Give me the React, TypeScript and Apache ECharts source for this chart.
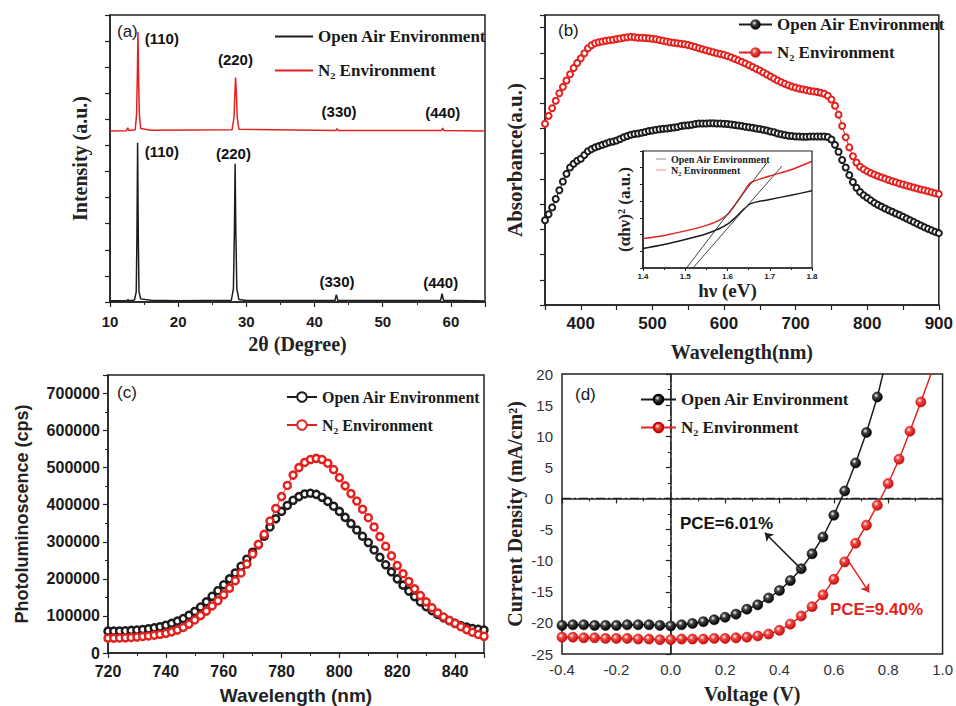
import React, { useEffect, useRef } from 'react';
import * as echarts from 'echarts';

const BLACK = '#1c1c1c';
const RED = '#e3221f';
const SANS = '"Liberation Sans", Arial, sans-serif';
const SERIF = '"Liberation Serif", "Times New Roman", serif';

// ---------- (a) XRD ----------
const xrdAirAngle = [10, 12.5, 12.6, 12.8, 13.6, 13.85, 13.95, 14.05, 14.15, 14.25, 14.5, 16, 20, 27.8, 28.1, 28.25, 28.35, 28.45, 28.6, 28.9, 30, 43.0, 43.2, 43.4, 58.5, 58.7, 58.9, 65];
const xrdAirIntensity = [0.05, 0.05, 0.09, 0.05, 0.08, 0.4, 2.5, 6.1, 2.5, 0.4, 0.12, 0.07, 0.05, 0.07, 0.5, 2.8, 5.3, 2.8, 0.5, 0.1, 0.06, 0.06, 0.28, 0.06, 0.07, 0.32, 0.07, 0.04];
const xrdN2Angle = [10, 12.4, 12.6, 12.8, 13.7, 13.9, 14.0, 14.1, 14.2, 14.3, 14.5, 16, 27.9, 28.2, 28.3, 28.42, 28.55, 28.65, 28.9, 43.1, 43.3, 43.5, 58.6, 58.8, 59.0, 65];
const xrdN2Intensity = [6.55, 6.56, 6.68, 6.57, 6.6, 7.2, 8.5, 10.35, 8.5, 7.2, 6.65, 6.58, 6.6, 7.1, 7.9, 8.6, 7.9, 7.1, 6.62, 6.57, 6.64, 6.57, 6.57, 6.66, 6.57, 6.55];
const peakNames = ['(110)', '(220)', '(330)', '(440)', '(110)', '(220)', '(330)', '(440)'];
const peakLabelAngle = [17.6, 28.4, 43.6, 58.8, 17.6, 28.1, 43.3, 58.5];
const peakLabelLevel = [10.1, 9.3, 7.3, 7.25, 5.75, 5.7, 0.77, 0.73];

// ---------- (b) absorbance ----------
const absWavelength = Array.from({ length: 111 }, (_, i) => 350 + 5 * i);
const absAir = [3.36, 3.6, 3.87, 4.2, 4.55, 4.9, 5.2, 5.45, 5.6, 5.72, 5.8, 5.95, 6.1, 6.18, 6.25, 6.3, 6.35, 6.4, 6.45, 6.48, 6.52, 6.58, 6.65, 6.7, 6.75, 6.78, 6.8, 6.83, 6.86, 6.9, 6.92, 6.95, 6.97, 6.99, 7.0, 7.02, 7.04, 7.06, 7.1, 7.12, 7.13, 7.15, 7.18, 7.2, 7.2, 7.2, 7.21, 7.21, 7.2, 7.2, 7.19, 7.18, 7.16, 7.14, 7.12, 7.1, 7.07, 7.05, 7.03, 7.0, 6.98, 6.95, 6.92, 6.88, 6.85, 6.8, 6.77, 6.74, 6.71, 6.7, 6.68, 6.68, 6.67, 6.67, 6.68, 6.68, 6.68, 6.68, 6.68, 6.66, 6.56, 6.35, 6.08, 5.75, 5.45, 5.15, 4.88, 4.65, 4.48, 4.35, 4.25, 4.15, 4.05, 3.97, 3.9, 3.83, 3.76, 3.7, 3.63, 3.57, 3.5, 3.43, 3.36, 3.29, 3.22, 3.15, 3.08, 3.02, 2.96, 2.9, 2.85];
const absN2 = [7.19, 7.5, 7.8, 8.1, 8.4, 8.65, 8.9, 9.15, 9.4, 9.6, 9.78, 9.98, 10.18, 10.3, 10.38, 10.42, 10.45, 10.48, 10.5, 10.52, 10.55, 10.57, 10.6, 10.62, 10.64, 10.62, 10.6, 10.6, 10.59, 10.58, 10.56, 10.54, 10.51, 10.48, 10.45, 10.42, 10.4, 10.38, 10.36, 10.34, 10.31, 10.27, 10.23, 10.18, 10.14, 10.1, 10.06, 10.02, 9.98, 9.95, 9.92, 9.87, 9.82, 9.76, 9.7, 9.64, 9.58, 9.51, 9.44, 9.37, 9.3, 9.22, 9.14, 9.06, 8.98, 8.9, 8.83, 8.77, 8.71, 8.66, 8.62, 8.58, 8.55, 8.52, 8.49, 8.47, 8.45, 8.42, 8.38, 8.3, 8.15, 7.9, 7.55, 7.1, 6.65, 6.25, 5.9, 5.65, 5.48, 5.38, 5.3, 5.23, 5.17, 5.11, 5.06, 5.01, 4.96, 4.91, 4.87, 4.82, 4.78, 4.74, 4.7, 4.66, 4.62, 4.58, 4.55, 4.51, 4.47, 4.43, 4.4];

// ---------- inset (Tauc) ----------
const taucEnergy = [1.4, 1.45, 1.5, 1.55, 1.58, 1.6, 1.62, 1.64, 1.655, 1.7, 1.75, 1.8];
const taucAir = [1.17, 1.4, 1.7, 2.05, 2.35, 2.62, 3.05, 3.55, 3.85, 4.1, 4.35, 4.62];
const taucN2 = [1.76, 1.95, 2.22, 2.55, 2.85, 3.2, 3.85, 4.6, 5.1, 5.5, 5.88, 6.39];
const tangentN2 = [[1.503, 0], [1.693, 6.29]];
const tangentAir = [[1.518, 0], [1.729, 6.1]];

// ---------- (c) PL ----------
const plWavelength = Array.from({ length: 66 }, (_, i) => 720 + 2 * i);
const plAir = [59000, 59000, 59500, 60000, 61000, 62000, 63500, 65500, 68000, 71000, 75000, 80000, 86000, 93000, 102000, 112000, 124000, 138000, 153000, 168000, 184000, 200000, 216000, 234000, 253000, 272000, 292000, 315000, 340000, 362000, 382000, 398000, 412000, 422000, 429000, 431000, 428000, 420000, 409000, 396000, 382000, 366000, 349000, 332000, 315000, 298000, 278000, 258000, 238000, 219000, 200000, 183000, 167000, 152000, 138000, 125000, 114000, 104000, 95000, 87000, 80000, 74000, 70000, 66000, 64000, 62000];
const plN2 = [40000, 40000, 40500, 41000, 42000, 43000, 44500, 46000, 48000, 50500, 53000, 57000, 62000, 69000, 78000, 89000, 101000, 113000, 127000, 141000, 157000, 175000, 195000, 216000, 240000, 267000, 293000, 320000, 356000, 390000, 422000, 452000, 480000, 500000, 514000, 522000, 525000, 522000, 512000, 495000, 473000, 451000, 430000, 410000, 388000, 365000, 340000, 314000, 288000, 262000, 236000, 214000, 193000, 173000, 155000, 138000, 122000, 108000, 97000, 88000, 80000, 71000, 63000, 56000, 50000, 45000];

// ---------- (d) J-V ----------
const jvAirV = [-0.4, -0.36, -0.32, -0.28, -0.24, -0.2, -0.16, -0.12, -0.08, -0.04, 0, 0.04, 0.08, 0.12, 0.16, 0.2, 0.24, 0.28, 0.32, 0.36, 0.4, 0.44, 0.48, 0.52, 0.56, 0.6, 0.64, 0.68, 0.72, 0.76, 0.8];
const jvAirJ = [-20.4, -20.3, -20.3, -20.4, -20.4, -20.4, -20.3, -20.3, -20.3, -20.4, -20.5, -20.3, -20.1, -19.8, -19.5, -19.1, -18.6, -17.8, -17.1, -16.0, -14.8, -13.2, -11.3, -8.9, -6.2, -2.7, 1.2, 5.7, 10.6, 16.3, 23.5];
const jvN2V = [-0.4, -0.36, -0.32, -0.28, -0.24, -0.2, -0.16, -0.12, -0.08, -0.04, 0, 0.04, 0.08, 0.12, 0.16, 0.2, 0.24, 0.28, 0.32, 0.36, 0.4, 0.44, 0.48, 0.52, 0.56, 0.6, 0.64, 0.68, 0.72, 0.76, 0.8, 0.84, 0.88, 0.92, 0.98];
const jvN2J = [-22.3, -22.3, -22.4, -22.4, -22.5, -22.5, -22.5, -22.6, -22.6, -22.7, -22.7, -22.6, -22.6, -22.6, -22.5, -22.5, -22.4, -22.3, -22.1, -21.8, -21.2, -20.2, -18.9, -17.4, -15.5, -13.0, -10.2, -7.2, -4.3, -1.1, 2.4, 6.3, 10.8, 15.5, 22.7];
const zeroVoltageLine = [[0, -25], [0, 20]];
const zeroCurrentLine = [[-0.4, 0], [1.0, 0]];
const pceTexts = ['PCE=6.01%', 'PCE=9.40%'];
const pceTextPos = [[0.205, -4.1], [0.757, -17.8]];
const pceArrowFrom = [[0.481, -11.4], [0.659, -10.4]];
const pceArrowTo = [[0.346, -5.5], [0.73, -15.1]];

const AIR = 'Open Air Environment';
const N2 = 'N₂ Environment';

function pairs(xs: number[], ys: number[]) {
  return xs.map((x, i) => [x, ys[i]]);
}

function ball(color: string, dark: string) {
  return new echarts.graphic.RadialGradient(0.38, 0.35, 0.65, [
    { offset: 0, color: '#ffffff' },
    { offset: 0.35, color: color },
    { offset: 1, color: dark },
  ]);
}

function xAx(grid: number, min: number, max: number, interval: number, extra: any = {}) {
  return {
    type: 'value', gridIndex: grid, min, max, interval,
    axisLine: { show: true, lineStyle: { color: '#222', width: 1.5 } },
    axisTick: { show: true, length: 5, lineStyle: { color: '#222', width: 1.2 } },
    minorTick: { show: false },
    splitLine: { show: false },
    nameLocation: 'middle',
    nameTextStyle: { fontFamily: SERIF, fontWeight: 'bold', fontSize: 20, color: '#222' },
    ...extra,
  };
}

function buildOption(): any {
  const labelBold = (size: number) => ({ fontFamily: SANS, fontWeight: 'bold', fontSize: size, color: '#1a1a1a' });
  const legendText = (size: number) => ({ fontFamily: SERIF, fontWeight: 'bold', fontSize: size, color: '#1a1a1a' });
  const fmt1 = (v: number) => (Math.abs(v) < 1e-9 ? '0.0' : v.toFixed(1));
  const stripName = (n: string) => n.split('|')[1];
  const lineIcon = 'path://M0,4L40,4L40,6L0,6Z';
  const ballLegend = (c: string, d: string) => ({ color: ball(c, d), borderColor: d, borderWidth: 0.6 });
  const noBorder = { textBorderWidth: 0, textBorderColor: 'transparent', textShadowBlur: 0 };

  return {
    animation: false,
    backgroundColor: '#fff',
    grid: [
      { left: 110, top: 15, width: 375, height: 287, show: true, borderColor: '#222', borderWidth: 1.5 },
      { left: 545, top: 15, width: 398, height: 290, show: true, borderColor: '#222', borderWidth: 1.5 },
      { left: 643, top: 151, width: 169, height: 117, show: true, borderColor: '#222', borderWidth: 1.2 },
      { left: 108, top: 375, width: 376, height: 280, show: true, borderColor: '#222', borderWidth: 1.5 },
      { left: 562, top: 374, width: 381, height: 280, show: true, borderColor: '#222', borderWidth: 1.5 },
    ],
    xAxis: [
      xAx(0, 10, 65, 10, {
        minorTick: { show: true, splitNumber: 2, length: 3, lineStyle: { color: '#222' } },
        axisLabel: { ...labelBold(15), margin: 12, showMaxLabel: false },
        name: '2θ (Degree)', nameGap: 32,
      }),
      xAx(1, 350, 900, 50, {
        axisLabel: { ...labelBold(17), margin: 10, formatter: (v: number) => (v % 100 === 0 ? String(v) : '') },
        name: 'Wavelength(nm)', nameGap: 37,
      }),
      xAx(2, 1.4, 1.8, 0.1, {
        axisTick: { show: true, length: 3, lineStyle: { color: '#222' } },
        minorTick: { show: true, splitNumber: 2, length: 2, lineStyle: { color: '#222' } },
        axisLabel: { ...labelBold(8), margin: 4, formatter: fmt1 },
        name: 'hν (eV)', nameGap: 8, nameTextStyle: { fontFamily: SERIF, fontWeight: 'bold', fontSize: 19, color: '#222' },
      }),
      xAx(3, 720, 850, 20, {
        minorTick: { show: true, splitNumber: 2, length: 3, lineStyle: { color: '#222' } },
        axisLabel: { ...labelBold(16), margin: 10, showMaxLabel: false },
        name: 'Wavelength (nm)', nameGap: 33,
        nameTextStyle: { fontFamily: SANS, fontWeight: 'bold', fontSize: 19, color: '#222' },
      }),
      xAx(4, -0.4, 1.0, 0.2, {
        minorTick: { show: true, splitNumber: 2, length: 3, lineStyle: { color: '#222' } },
        axisLabel: { fontFamily: SANS, fontSize: 15, color: '#333', margin: 8, formatter: fmt1 },
        name: 'Voltage (V)', nameGap: 30,
      }),
    ],
    yAxis: [
      xAx(0, 0, 11, 1, { axisLabel: { show: false }, name: 'Intensity (a.u.)', nameGap: 20 }),
      xAx(1, 0, 11.5, 1, { axisLabel: { show: false }, name: 'Absorbance(a.u.)', nameGap: 20,
        nameTextStyle: { fontFamily: SERIF, fontWeight: 'bold', fontSize: 21, color: '#222' } }),
      xAx(2, 0, 7, 1, {
        axisTick: { show: true, length: 3, lineStyle: { color: '#222' } },
        axisLabel: { show: false }, name: '(αhν)² (a.u.)', nameGap: 10,
        nameTextStyle: { fontFamily: SERIF, fontWeight: 'bold', fontSize: 17, color: '#222' },
      }),
      xAx(3, 0, 750000, 100000, {
        minorTick: { show: true, splitNumber: 2, length: 3, lineStyle: { color: '#222' } },
        axisLabel: { ...labelBold(16), margin: 8, showMaxLabel: false, formatter: (v: number) => String(v) },
        name: 'Photoluminoscence (cps)', nameGap: 77,
        nameTextStyle: { fontFamily: SANS, fontWeight: 'bold', fontSize: 18, color: '#222' },
      }),
      xAx(4, -25, 20, 5, {
        minorTick: { show: true, splitNumber: 2, length: 3, lineStyle: { color: '#222' } },
        axisLabel: { fontFamily: SANS, fontSize: 15, color: '#333', margin: 9 },
        name: 'Current Density (mA/cm²)', nameGap: 37,
      }),
    ],
    legend: [
      { data: [{ name: 'a|' + AIR, icon: lineIcon }, { name: 'a|' + N2, icon: lineIcon }], left: 270, top: 23, orient: 'vertical',
        itemWidth: 38, itemHeight: 10, itemGap: 17, formatter: stripName, textStyle: legendText(17), selectedMode: false },
      { data: [{ name: 'b|' + AIR, itemStyle: ballLegend('#444', '#000') }, { name: 'b|' + N2, itemStyle: ballLegend('#f04a44', '#c80e0e') }],
        left: 733, top: 11, orient: 'vertical', itemWidth: 33, itemHeight: 12, itemGap: 11,
        formatter: stripName, textStyle: legendText(17), selectedMode: false },
      { data: [{ name: 'i|' + AIR, icon: lineIcon }, { name: 'i|' + N2, icon: lineIcon }], left: 651, top: 149, orient: 'vertical',
        itemWidth: 10, itemHeight: 3, itemGap: 1, formatter: stripName, textStyle: legendText(10), selectedMode: false },
      { data: ['c|' + AIR, 'c|' + N2], left: 281, top: 384, orient: 'vertical', itemWidth: 30, itemHeight: 12, itemGap: 12,
        formatter: stripName, textStyle: legendText(16), selectedMode: false },
      { data: ['d|' + AIR, 'd|' + N2], left: 635, top: 386, orient: 'vertical', itemWidth: 35, itemHeight: 12, itemGap: 11,
        formatter: stripName, textStyle: legendText(17), selectedMode: false },
    ],
    series: [
      // (a)
      { type: 'line', name: 'a|' + AIR, xAxisIndex: 0, yAxisIndex: 0, data: pairs(xrdAirAngle, xrdAirIntensity),
        symbol: 'none', lineStyle: { color: BLACK, width: 1.5 }, itemStyle: { color: BLACK } },
      { type: 'line', name: 'a|' + N2, xAxisIndex: 0, yAxisIndex: 0, data: pairs(xrdN2Angle, xrdN2Intensity),
        symbol: 'none', lineStyle: { color: RED, width: 1.5 }, itemStyle: { color: RED } },
      { type: 'scatter', name: 'a|peaks', xAxisIndex: 0, yAxisIndex: 0, symbolSize: 0, itemStyle: { color: '#111', opacity: 1 },
        data: peakNames.map((n, i) => ({ name: n, value: [peakLabelAngle[i], peakLabelLevel[i]] })),
        label: { show: true, position: 'inside', formatter: (p: any) => p.name, ...labelBold(15), color: '#111', ...noBorder }, silent: true },
      // (b)
      { type: 'line', name: 'b|' + AIR, xAxisIndex: 1, yAxisIndex: 1, data: pairs(absWavelength, absAir),
        symbol: 'circle', symbolSize: 6, showAllSymbol: true,
        lineStyle: { color: BLACK, width: 1 }, itemStyle: { color: '#fff', borderColor: BLACK, borderWidth: 2 } },
      { type: 'line', name: 'b|' + N2, xAxisIndex: 1, yAxisIndex: 1, data: pairs(absWavelength, absN2),
        symbol: 'circle', symbolSize: 6, showAllSymbol: true,
        lineStyle: { color: RED, width: 1 }, itemStyle: { color: '#fff', borderColor: RED, borderWidth: 2 } },
      // inset
      { type: 'line', name: 'i|' + AIR, xAxisIndex: 2, yAxisIndex: 2, data: pairs(taucEnergy, taucAir), smooth: 0.3,
        symbol: 'none', lineStyle: { color: BLACK, width: 1.5 }, itemStyle: { color: BLACK } },
      { type: 'line', name: 'i|' + N2, xAxisIndex: 2, yAxisIndex: 2, data: pairs(taucEnergy, taucN2), smooth: 0.3,
        symbol: 'none', lineStyle: { color: RED, width: 1.5 }, itemStyle: { color: RED } },
      { type: 'line', name: 'i|tangent1', xAxisIndex: 2, yAxisIndex: 2, data: tangentN2,
        symbol: 'none', lineStyle: { color: '#444', width: 1 } },
      { type: 'line', name: 'i|tangent2', xAxisIndex: 2, yAxisIndex: 2, data: tangentAir,
        symbol: 'none', lineStyle: { color: '#444', width: 1 } },
      // (c)
      { type: 'line', name: 'c|' + AIR, xAxisIndex: 3, yAxisIndex: 3, data: pairs(plWavelength, plAir),
        symbol: 'circle', symbolSize: 7, showAllSymbol: true,
        lineStyle: { color: BLACK, width: 1 }, itemStyle: { color: '#fff', borderColor: BLACK, borderWidth: 2.5 } },
      { type: 'line', name: 'c|' + N2, xAxisIndex: 3, yAxisIndex: 3, data: pairs(plWavelength, plN2),
        symbol: 'circle', symbolSize: 7, showAllSymbol: true,
        lineStyle: { color: RED, width: 1 }, itemStyle: { color: '#fff', borderColor: RED, borderWidth: 2.5 } },
      // (d) reference lines
      { type: 'line', name: 'd|zeroV', xAxisIndex: 4, yAxisIndex: 4, data: zeroVoltageLine, symbol: 'none', silent: true,
        lineStyle: { color: '#222', width: 1.2, type: [9, 3, 2, 3] } },
      { type: 'line', name: 'd|zeroJ', xAxisIndex: 4, yAxisIndex: 4, data: zeroCurrentLine, symbol: 'none', silent: true,
        lineStyle: { color: '#222', width: 1.2, type: [9, 3, 2, 3] } },
      { type: 'line', name: 'd|' + AIR, xAxisIndex: 4, yAxisIndex: 4,
        data: jvAirV.map((v, i) => (i === jvAirV.length - 1 ? { value: [v, jvAirJ[i]], symbol: 'none' } : [v, jvAirJ[i]])),
        symbol: 'circle', symbolSize: 10, showAllSymbol: true, clip: true,
        lineStyle: { color: BLACK, width: 1.5 }, itemStyle: { color: ball('#444', '#000'), borderColor: '#000', borderWidth: 0.6 },
        markLine: {
          silent: true, symbol: ['none', 'none'], label: { show: false },
          data: pceArrowFrom.map((f, i) => [
            { coord: f, symbol: 'none', lineStyle: { color: i === 0 ? BLACK : RED, width: 1.5, type: 'solid' } },
            { coord: pceArrowTo[i], symbol: 'arrow', symbolSize: 8 },
          ]),
        } },
      { type: 'line', name: 'd|' + N2, xAxisIndex: 4, yAxisIndex: 4,
        data: jvN2V.map((v, i) => (i === jvN2V.length - 1 ? { value: [v, jvN2J[i]], symbol: 'none' } : [v, jvN2J[i]])),
        symbol: 'circle', symbolSize: 10, showAllSymbol: true, clip: true,
        lineStyle: { color: RED, width: 1.5 }, itemStyle: { color: ball('#f04a44', '#c80e0e'), borderColor: '#c00', borderWidth: 0.6 } },
      { type: 'scatter', name: 'd|pce', xAxisIndex: 4, yAxisIndex: 4, symbolSize: 0, silent: true, itemStyle: { opacity: 1 },
        data: pceTexts.map((t, i) => ({ name: t, value: pceTextPos[i], itemStyle: { color: i === 0 ? BLACK : RED, opacity: 1 }, label: { color: i === 0 ? '#111' : RED } })),
        label: { show: true, position: 'inside', formatter: (p: any) => p.name, fontFamily: SANS, fontWeight: 'bold', fontSize: 17, ...noBorder } },
    ],
    graphic: [
      { type: 'text', left: 117, top: 23, style: { text: '(a)', font: `17px ${SANS}`, fill: '#1a1a1a' } },
      { type: 'text', left: 558, top: 22, style: { text: '(b)', font: `17px ${SANS}`, fill: '#1a1a1a' } },
      { type: 'text', left: 117, top: 384, style: { text: '(c)', font: `17px ${SANS}`, fill: '#1a1a1a' } },
      { type: 'text', left: 575, top: 386, style: { text: '(d)', font: `17px ${SANS}`, fill: '#1a1a1a' } },
    ],
  };
}

export default function App() {
  const ref = useRef<HTMLDivElement>(null);
  useEffect(() => {
    document.body.style.margin = '0';
    const chart = echarts.init(ref.current!, undefined, { renderer: 'svg' });
    chart.setOption(buildOption());
    return () => chart.dispose();
  }, []);
  return <div ref={ref} style={{ position: 'absolute', left: 0, top: 0, width: 956, height: 706 }} />;
}
